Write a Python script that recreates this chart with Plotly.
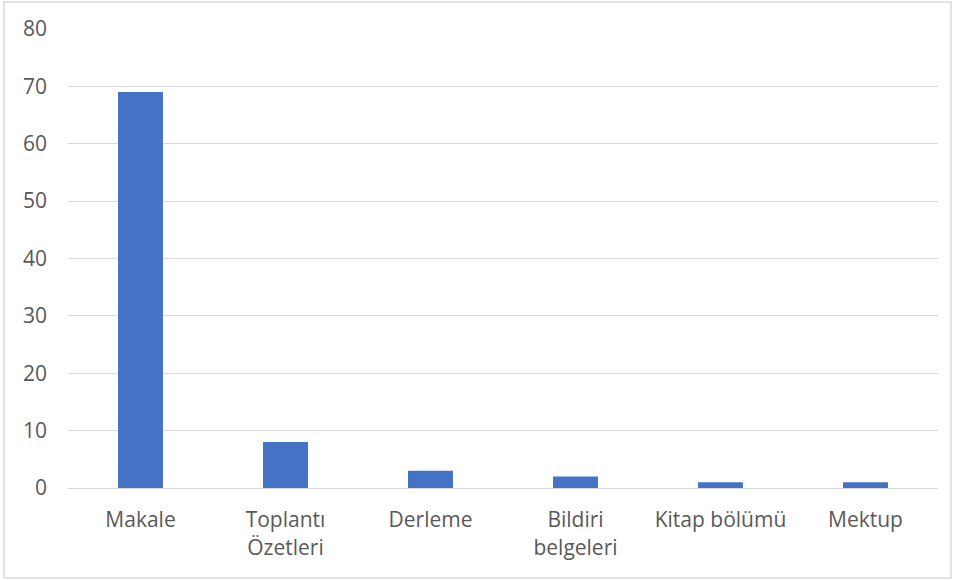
import plotly.graph_objects as go

categories = ["Makale", "Toplantı<br>Özetleri", "Derleme", "Bildiri<br>belgeleri", "Kitap bölümü", "Mektup"]
counts = [69, 8, 3, 2, 1, 1]
y_ticks = [0, 10, 20, 30, 40, 50, 60, 70, 80]

fig = go.Figure()
fig.add_trace(go.Bar(x=categories, y=counts, marker=dict(color="#4472C4", line_width=0)))

fig.update_layout(
    width=955,
    height=580,
    template="simple_white",
    font=dict(family="Open Sans", size=21, color="#595959"),
    margin=dict(l=68, r=17, t=29, b=92),
    bargap=0.69,
    showlegend=False,
    paper_bgcolor="white",
    plot_bgcolor="white",
)
fig.update_yaxes(
    range=[0, 80],
    tickvals=y_ticks,
    showgrid=True,
    gridcolor="#d9d9d9",
    gridwidth=1,
    showline=False,
    ticks="",
    ticklabelstandoff=20,
    zeroline=False,
)
fig.update_xaxes(
    showline=True,
    linecolor="#d9d9d9",
    linewidth=1,
    ticks="",
    ticklabelstandoff=13,
)
# outer chart border
fig.add_shape(
    type="rect", xref="paper", yref="paper",
    x0=(4 - 68) / 870, x1=(951 - 68) / 870,
    y0=(488 - 578) / 459, y1=(488 - 2) / 459,
    line=dict(color="#d9d9d9", width=1.5),
    fillcolor="rgba(0,0,0,0)", opacity=1, layer="below",
)

fig.write_html(
    "out.html",
    config={"displayModeBar": False},
    post_script="document.body.style.margin='0';",
)
